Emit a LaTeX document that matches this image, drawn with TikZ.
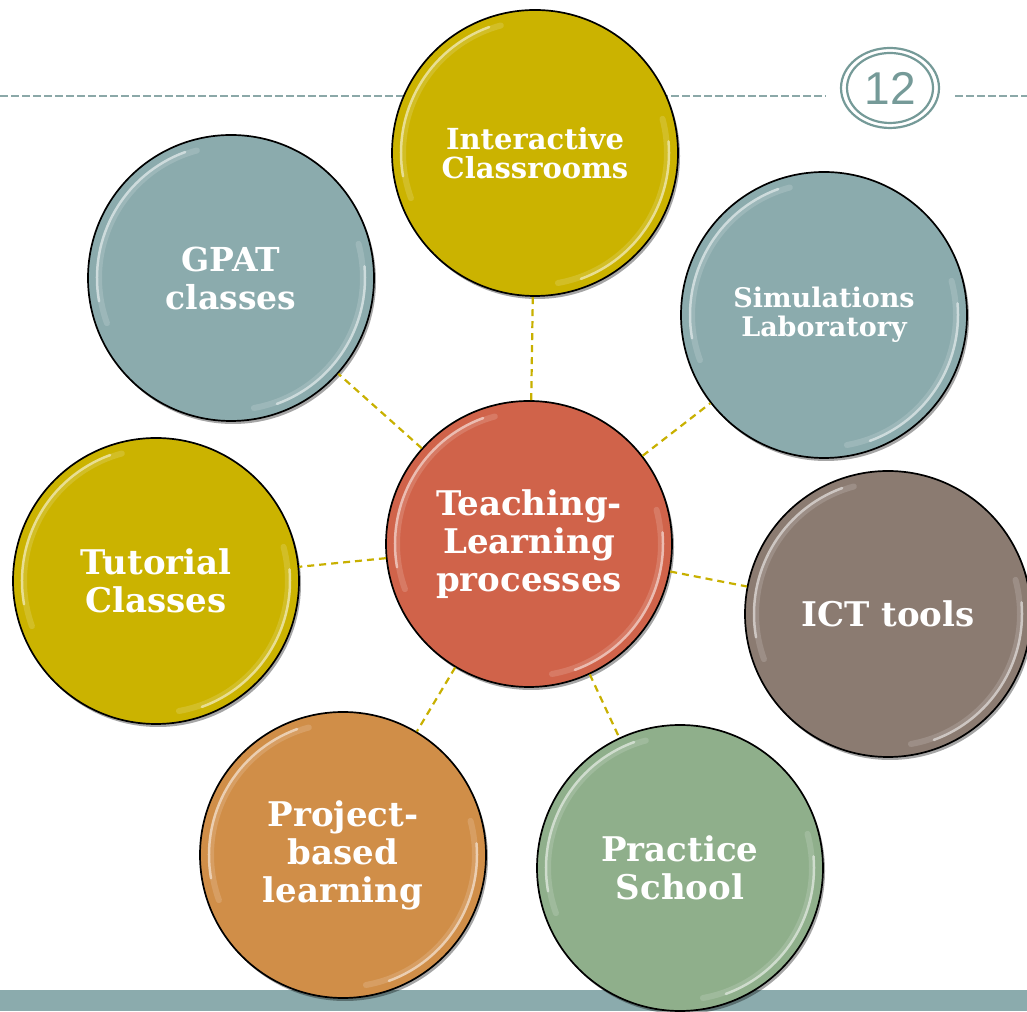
\documentclass[tikz,border=0pt]{standalone}
\usepackage{fontspec}
\setmainfont{DejaVu Serif}
\newfontfamily\numfont{Liberation Sans}
\usetikzlibrary{shadows,shapes.geometric}
\definecolor{cyel}{HTML}{CBB300}
\definecolor{cblu}{HTML}{8BABAD}
\definecolor{cred}{HTML}{D0634A}
\definecolor{cbrn}{HTML}{8B7B71}
\definecolor{corg}{HTML}{D08E48}
\definecolor{cgrn}{HTML}{8FAF8B}
\definecolor{cline}{HTML}{8BA8A8}
\definecolor{cpage}{HTML}{759A98}
\definecolor{cconn}{HTML}{C8B000}
\tikzset{
  bubble/.style={circle, draw=black, line width=1.7pt, minimum size=286pt, inner sep=0pt,
    text=white, align=center, font=\bfseries,
    drop shadow={shadow xshift=2pt, shadow yshift=-3pt, opacity=0.35, fill=black}},
  conn/.style={draw=cconn, line width=2.2pt, dash pattern=on 7pt off 5pt},
  gloss/.style={white, line width=2.5pt, line cap=round, opacity=0.5},
}
\newcommand{\fs}[2]{\fontsize{#1}{#2}\selectfont}
\begin{document}
\begin{tikzpicture}[x=1pt,y=1pt]
\useasboundingbox (0,0) rectangle (1027,1011);
% header dashed line and page number
\draw[cline, line width=2pt, dash pattern=on 8pt off 3pt] (0,915) -- (826,915);
\draw[cline, line width=2pt, dash pattern=on 8pt off 3pt] (955,915) -- (1027,915);
\node[ellipse, minimum width=98pt, minimum height=80pt, draw=cpage, line width=2.2pt, inner sep=0pt] (pg) at (890,923) {};
\node[ellipse, minimum width=86pt, minimum height=70pt, draw=cpage, line width=2.2pt, inner sep=0pt, text=cpage, font=\numfont\fs{46}{46}] (pgi) at (890,923) {12};
% bottom bar
\fill[cblu] (0,0) rectangle (1027,21);
% circles
\node[bubble, fill=cyel, font=\bfseries\fs{29}{29}] (inter) at (535,858) {Interactive\\Classrooms};
\node[bubble, fill=cblu, font=\bfseries\fs{33}{38}] (gpat) at (231,733) {GPAT\\classes};
\node[bubble, fill=cblu, font=\bfseries\fs{27}{29}] (sim) at (824,696) {Simulations\\Laboratory};
\node[bubble, fill=cred, font=\bfseries\fs{34}{38}] (tl) at (529,467) {Teaching-\\Learning\\processes};
\node[bubble, fill=cyel, font=\bfseries\fs{34}{38}] (tut) at (156,430) {Tutorial\\Classes};
\node[bubble, fill=cbrn, font=\bfseries\fs{34}{38}] (ict) at (888,397) {ICT tools};
\node[bubble, fill=corg, font=\bfseries\fs{34}{38}] (proj) at (343,156) {Project-\\based\\learning};
\node[bubble, fill=cgrn, font=\bfseries\fs{34}{38}] (prac) at (680,143) {Practice\\School};
% gloss highlights
\foreach \n in {inter,gpat,sim,tl,tut,ict,proj,prac}{
  \draw[gloss, line width=6pt, opacity=0.15] ([shift={(105:132)}]\n.center) arc (105:200:132);
  \draw[gloss] ([shift={(110:134)}]\n.center) arc (110:190:134);
  \draw[gloss, line width=6pt, opacity=0.15] ([shift={(-80:132)}]\n.center) arc (-80:15:132);
  \draw[gloss] ([shift={(-70:134)}]\n.center) arc (-70:5:134);
}
% connectors
\draw[conn] (tl) -- (inter);
\draw[conn] (tl) -- (gpat);
\draw[conn] (tl) -- (sim);
\draw[conn] (tl) -- (tut);
\draw[conn] (tl) -- (ict);
\draw[conn] (tl) -- (proj);
\draw[conn] (tl) -- (prac);
\end{tikzpicture}
\end{document}
